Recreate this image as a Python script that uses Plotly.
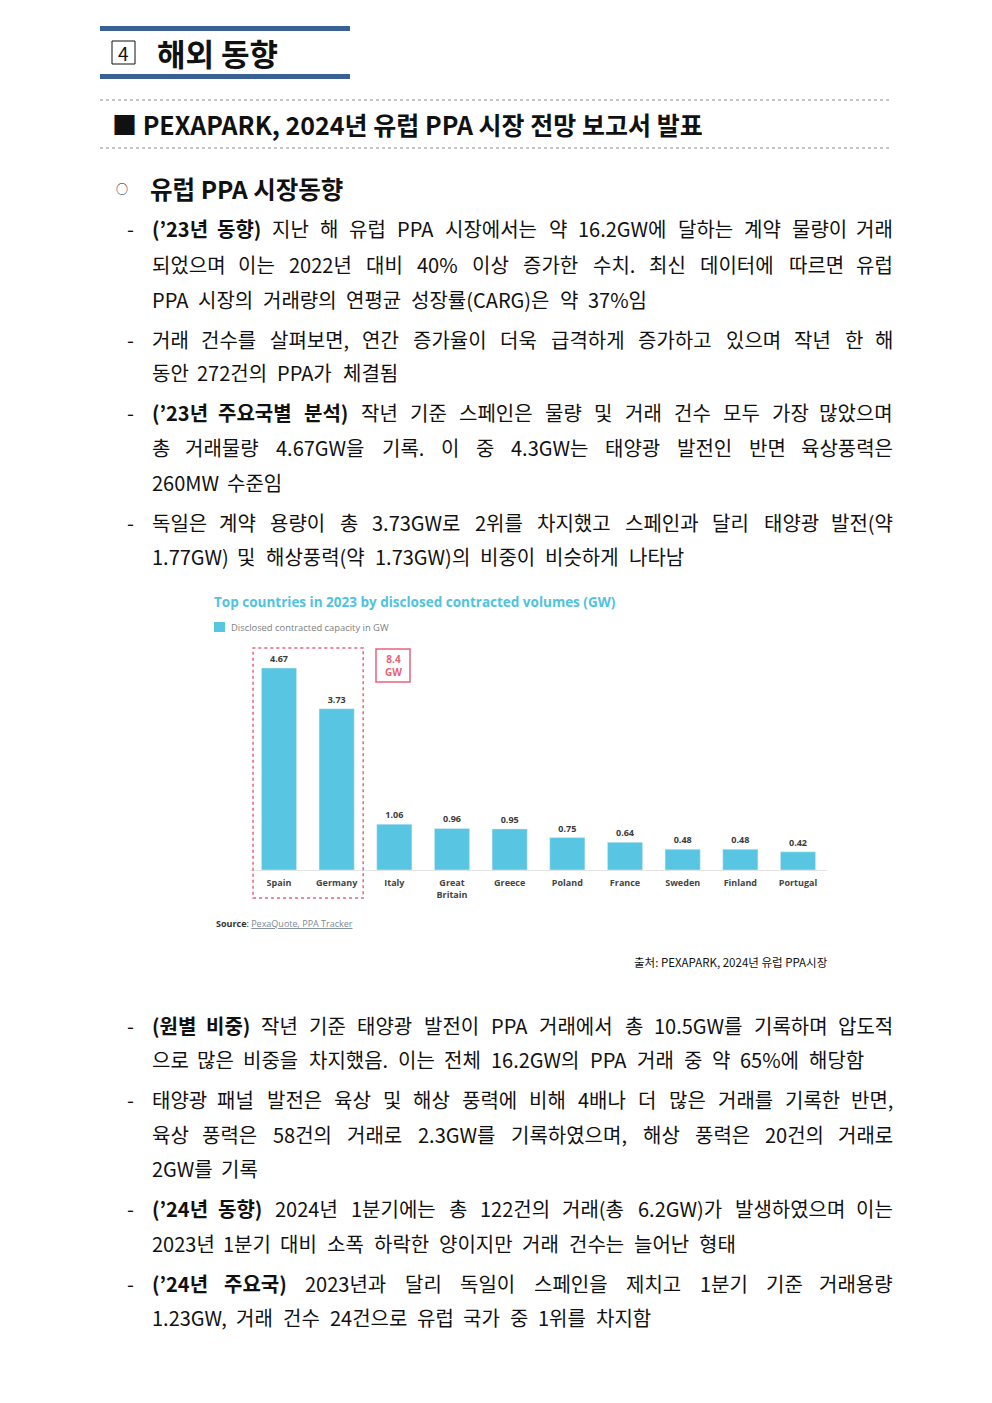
import plotly.graph_objects as go

# page is 992x1403; the html body adds an 8px margin, so the figure is 16px smaller
W, H = 976, 1387
OFF = 8

# chart data
countries = ["Spain", "Germany", "Italy", "Great<br>Britain", "Greece", "Poland",
             "France", "Sweden", "Finland", "Portugal"]
volumes = [4.67, 3.73, 1.06, 0.96, 0.95, 0.75, 0.64, 0.48, 0.48, 0.42]
series_name = "Disclosed contracted capacity in GW"
chart_title = "Top countries in 2023 by disclosed contracted volumes (GW)"
top2_total = "8.4<br>GW"

# page text: (y pixel, bullet, bold part, rest, justified)
body_top = [
    (229, True, "(’23년 동향)", "지난 해 유럽 PPA 시장에서는 약 16.2GW에 달하는 계약 물량이 거래", True),
    (264, False, "", "되었으며 이는 2022년 대비 40% 이상 증가한 수치. 최신 데이터에 따르면 유럽", True),
    (299, False, "", "PPA 시장의 거래량의 연평균 성장률(CARG)은 약 37%임", False),
    (339, True, "", "거래 건수를 살펴보면, 연간 증가율이 더욱 급격하게 증가하고 있으며 작년 한 해", True),
    (373, False, "", "동안 272건의 PPA가 체결됨", False),
    (413, True, "(’23년 주요국별 분석)", "작년 기준 스페인은 물량 및 거래 건수 모두 가장 많았으며", True),
    (447, False, "", "총 거래물량 4.67GW을 기록. 이 중 4.3GW는 태양광 발전인 반면 육상풍력은", True),
    (482, False, "", "260MW 수준임", False),
    (522, True, "", "독일은 계약 용량이 총 3.73GW로 2위를 차지했고 스페인과 달리 태양광 발전(약", True),
    (556, False, "", "1.77GW) 및 해상풍력(약 1.73GW)의 비중이 비슷하게 나타남", False),
]
body_bottom = [
    (1025, True, "(원별 비중)", "작년 기준 태양광 발전이 PPA 거래에서 총 10.5GW를 기록하며 압도적", True),
    (1059, False, "", "으로 많은 비중을 차지했음. 이는 전체 16.2GW의 PPA 거래 중 약 65%에 해당함", False),
    (1099, True, "", "태양광 패널 발전은 육상 및 해상 풍력에 비해 4배나 더 많은 거래를 기록한 반면,", True),
    (1134, False, "", "육상 풍력은 58건의 거래로 2.3GW를 기록하였으며, 해상 풍력은 20건의 거래로", True),
    (1168, False, "", "2GW를 기록", False),
    (1208, True, "(’24년 동향)", "2024년 1분기에는 총 122건의 거래(총 6.2GW)가 발생하였으며 이는", True),
    (1243, False, "", "2023년 1분기 대비 소폭 하락한 양이지만 거래 건수는 늘어난 형태", False),
    (1283, True, "(’24년 주요국)", "2023년과 달리 독일이 스페인을 제치고 1분기 기준 거래용량", True),
    (1317, False, "", "1.23GW, 거래 건수 24건으로 유럽 국가 중 1위를 차지함", False),
]

KR = "Noto Sans CJK KR"
BODY = 20
WORD_GAP = 9.6
BLUE = "#58c6e2"
RED = "#e5647a"


def px(x):
    return (x - OFF) / W


def py(y):
    return 1 - (y - OFF) / H


# advance widths (em) measured for Noto Sans CJK KR
CAPS = {"G": 0.695, "W": 0.885, "P": 0.64, "A": 0.61, "C": 0.615, "R": 0.64,
        "M": 0.815, "E": 0.595, "K": 0.65}


def char_w(c, bold):
    if "\uac00" <= c <= "\ud7a3":
        return 0.925
    k = 1.07 if bold else 1.0
    if c.isdigit():
        return 0.557 * k
    if c == " ":
        return 0.222
    if c in ".,:’'":
        return 0.285 * k
    if c in "()":
        return 0.345 * k
    if c == "%":
        return 0.925 * k
    if c.isupper():
        return CAPS.get(c, 0.62) * k
    return 0.5 * k


def text_w(s, size, bold=False):
    return sum(char_w(c, bold) for c in s) * size


annotations = []


def add_text(x, y, text, size, anchor="left", color="#111", family=KR):
    annotations.append(dict(
        x=px(x), y=py(y), xref="paper", yref="paper", text=text, showarrow=False,
        xanchor=anchor, yanchor="middle",
        font=dict(family=family, size=size, color=color)))


def add_line(y, bullet, bold_part, rest, justify, x0=150, x1=895):
    if bullet:
        add_text(131, y, "-", BODY, anchor="center")
    tokens = [(t, True) for t in bold_part.split()] + [(t, False) for t in rest.split()]
    widths = [text_w(t, BODY, b) for t, b in tokens]
    if justify:
        gap = (x1 - x0 - sum(widths)) / (len(tokens) - 1)
    else:
        gap = WORD_GAP
    cur = x0
    for i, ((t, b), w) in enumerate(zip(tokens, widths)):
        label = f"<b>{t}</b>" if b else t
        if i == 0:
            add_text(x0, y, label, BODY)
        elif justify and i == len(tokens) - 1:
            add_text(x1, y, label, BODY, anchor="right")
        else:
            add_text(cur + w / 2, y, label, BODY, anchor="center")
        cur += w + gap


for row in body_top + body_bottom:
    add_line(*row)

# headings
add_text(123.5, 53, "4", 19, anchor="center")
add_text(155, 52, "<b>해외 동향</b>", 31)
add_text(110, 124, "<b>■ PEXAPARK, 2024년 유럽 PPA 시장 전망 보고서 발표</b>", 25)
add_text(122, 188, "○", 12, anchor="center")
add_text(148, 188, "<b>유럽 PPA 시장동향</b>", 24.5)
add_text(632, 962, "출처: PEXAPARK, 2024년 유럽 PPA시장", 11.5)

# chart extras: legend, source, total box
add_text(229, 627, series_name, 9.4, color="#808080", family="Open Sans")
add_text(214, 923, "<b>Source</b>: <span style='color:#7a8a96'><u>PexaQuote, PPA Tracker</u></span>",
         9, color="#333", family="Open Sans")
add_text(393, 665.5, f"<b>{top2_total}</b>", 10, anchor="center", color=RED, family="Open Sans")

shapes = [
    dict(type="rect", xref="paper", yref="paper", x0=px(100), x1=px(350), y0=py(26), y1=py(31),
         fillcolor="#3a6193", line_width=0),
    dict(type="rect", xref="paper", yref="paper", x0=px(100), x1=px(350), y0=py(74), y1=py(79),
         fillcolor="#3a6193", line_width=0),
    dict(type="rect", xref="paper", yref="paper", x0=px(112), x1=px(135), y0=py(41), y1=py(64),
         line=dict(color="#111", width=1)),
    dict(type="line", xref="paper", yref="paper", x0=px(100), x1=px(890), y0=py(100), y1=py(100),
         line=dict(color="#8a8a8a", width=1, dash="dot")),
    dict(type="line", xref="paper", yref="paper", x0=px(100), x1=px(890), y0=py(148), y1=py(148),
         line=dict(color="#8a8a8a", width=1, dash="dot")),
    dict(type="rect", xref="paper", yref="paper", x0=px(214), x1=px(225), y0=py(632), y1=py(622),
         fillcolor=BLUE, line_width=0),
    dict(type="rect", xref="x", yref="paper", x0=-0.45, x1=1.46, y0=py(898), y1=py(648),
         line=dict(color=RED, width=1.5, dash="dot")),
    dict(type="rect", xref="paper", yref="paper", x0=px(376), x1=px(410), y0=py(682), y1=py(649),
         line=dict(color=RED, width=1.5)),
]

fig = go.Figure()
fig.add_trace(go.Bar(
    x=countries, y=volumes, name=series_name, marker_color=BLUE,
    texttemplate="%{y:.2f}", textposition="outside", cliponaxis=False,
    textfont=dict(family="Open Sans", size=9, color="#3a3a3a", weight="bold")))

step = 57.67
x_left = 279 - step / 2
x_right = 798 + step / 2
base_px = 870
top_px = 648
y_max = volumes[0] * (base_px - top_px) / (base_px - 668)

fig.update_xaxes(domain=[px(x_left), px(x_right)], showline=True, linecolor="#e4e4e4",
                 linewidth=1, showgrid=False, ticks="", ticklabelstandoff=4,
                 tickfont=dict(family="Open Sans", size=9, color="#444", weight="bold"))
fig.update_yaxes(domain=[py(base_px), py(top_px)], range=[0, y_max], visible=False)

fig.update_layout(
    width=W, height=H, margin=dict(l=0, r=0, t=0, b=0),
    paper_bgcolor="white", plot_bgcolor="white", bargap=0.39, showlegend=False,
    title=dict(text=chart_title, x=px(214), xanchor="left", y=py(602), yanchor="middle",
               font=dict(family="Open Sans", size=13.5, color="#4fc3e0", weight="bold")),
    annotations=annotations, shapes=shapes,
)

fig.write_html("out.html")
